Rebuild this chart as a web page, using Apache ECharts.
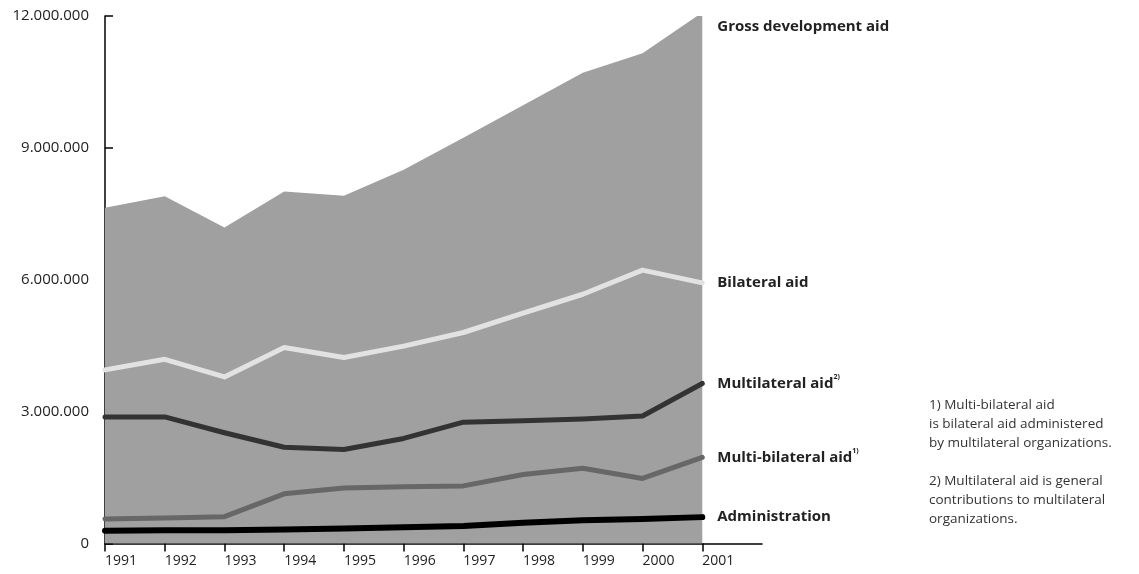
<!DOCTYPE html>
<html>
<head>
<meta charset="utf-8">
<script src="https://cdn.jsdelivr.net/npm/echarts@6/dist/echarts.min.js"></script>
<style>
html,body{margin:0;padding:0;background:#fff;}
#c{width:1139px;height:574px;}
</style>
</head>
<body>
<div id="c"></div>
<script>
var years = [1991,1992,1993,1994,1995,1996,1997,1998,1999,2000,2001];
var yTicks = [0,3000000,6000000,9000000,12000000];
var gross = [7640000,7900000,7190000,8010000,7910000,8500000,9230000,9970000,10710000,11150000,12080000];
var bilateral = [3950000,4190000,3790000,4460000,4230000,4490000,4800000,5240000,5670000,6220000,5930000];
var multilateral = [2880000,2880000,2520000,2190000,2140000,2390000,2760000,2790000,2830000,2900000,3640000];
var multiBilateral = [560000,580000,610000,1130000,1260000,1290000,1310000,1570000,1710000,1480000,1960000];
var administration = [290000,300000,300000,320000,340000,370000,400000,470000,530000,560000,600000];
var footnotes = ['1) Multi-bilateral aid','is bilateral aid administered','by multilateral organizations.','','2) Multilateral aid is general','contributions to multilateral','organizations.'];

function pairs(arr){ return years.map(function(y,i){ return [y, arr[i]]; }); }
var FONT = 'Open Sans';
var labelRich = {
  a:{fontFamily:FONT,fontWeight:'bold',fontSize:15,color:'#222',lineHeight:19},
  s:{fontFamily:FONT,fontWeight:'bold',fontSize:7,color:'#222',verticalAlign:'top',lineHeight:19,padding:[0,0,7,0]}
};
function lineSeries(name, data, color, width, z, label){
  return {
    type:'line', name:name, data:pairs(data), showSymbol:false, symbol:'none', z:z,
    lineStyle:{color:color,width:width,cap:'round',join:'round'},
    endLabel:{show:true, distance:15, formatter:label, rich:labelRich},
    silent:true, animation:false
  };
}
var chart = echarts.init(document.getElementById('c'), null, {renderer:'canvas'});
chart.setOption({
  animation:false,
  backgroundColor:'#fff',
  grid:{left:105,top:16,width:657,height:527.5},
  xAxis:{
    type:'value', min:1991, max:2002, interval:1,
    axisLine:{show:true,lineStyle:{color:'#000',width:1.5}},
    axisTick:{show:true,length:8,lineStyle:{color:'#000',width:1.5},customValues:years},
    axisLabel:{fontFamily:FONT,fontSize:14,color:'#222',margin:11,align:'left',customValues:years,formatter:function(v){return String(v);}},
    splitLine:{show:false}
  },
  yAxis:{
    type:'value', min:0, max:12000000, interval:3000000,
    axisLine:{show:true,lineStyle:{color:'#000',width:1.5}},
    axisTick:{show:true,inside:true,length:8,lineStyle:{color:'#000',width:1.5}},
    axisLabel:{fontFamily:FONT,fontSize:15,color:'#222',margin:16,
      formatter:function(v){return String(v).replace(/\B(?=(\d{3})+(?!\d))/g,'.');}},
    splitLine:{show:false}
  },
  series:[
    {type:'line',name:'Gross development aid',data:pairs(gross),showSymbol:false,symbol:'none',z:1,
     lineStyle:{width:0},areaStyle:{color:'#a0a0a0',opacity:1},
     endLabel:{show:true,distance:15,offset:[0,14],formatter:'{a|Gross development aid}',rich:labelRich},silent:true},
    lineSeries('Bilateral aid', bilateral, '#e2e2e2', 5, 3, '{a|Bilateral aid}'),
    lineSeries('Multilateral aid', multilateral, '#333333', 5, 3, '{a|Multilateral aid}{s|2)}'),
    lineSeries('Multi-bilateral aid', multiBilateral, '#676767', 5, 3, '{a|Multi-bilateral aid}{s|1)}'),
    lineSeries('Administration', administration, '#000000', 6, 4, '{a|Administration}')
  ],
  graphic:footnotes.map(function(t,i){
    return {type:'text',x:929,y:405+i*19,style:{text:t,fontFamily:FONT,fontSize:13.5,fill:'#333',verticalAlign:'middle'}};
  })
});
</script>
</body>
</html>
